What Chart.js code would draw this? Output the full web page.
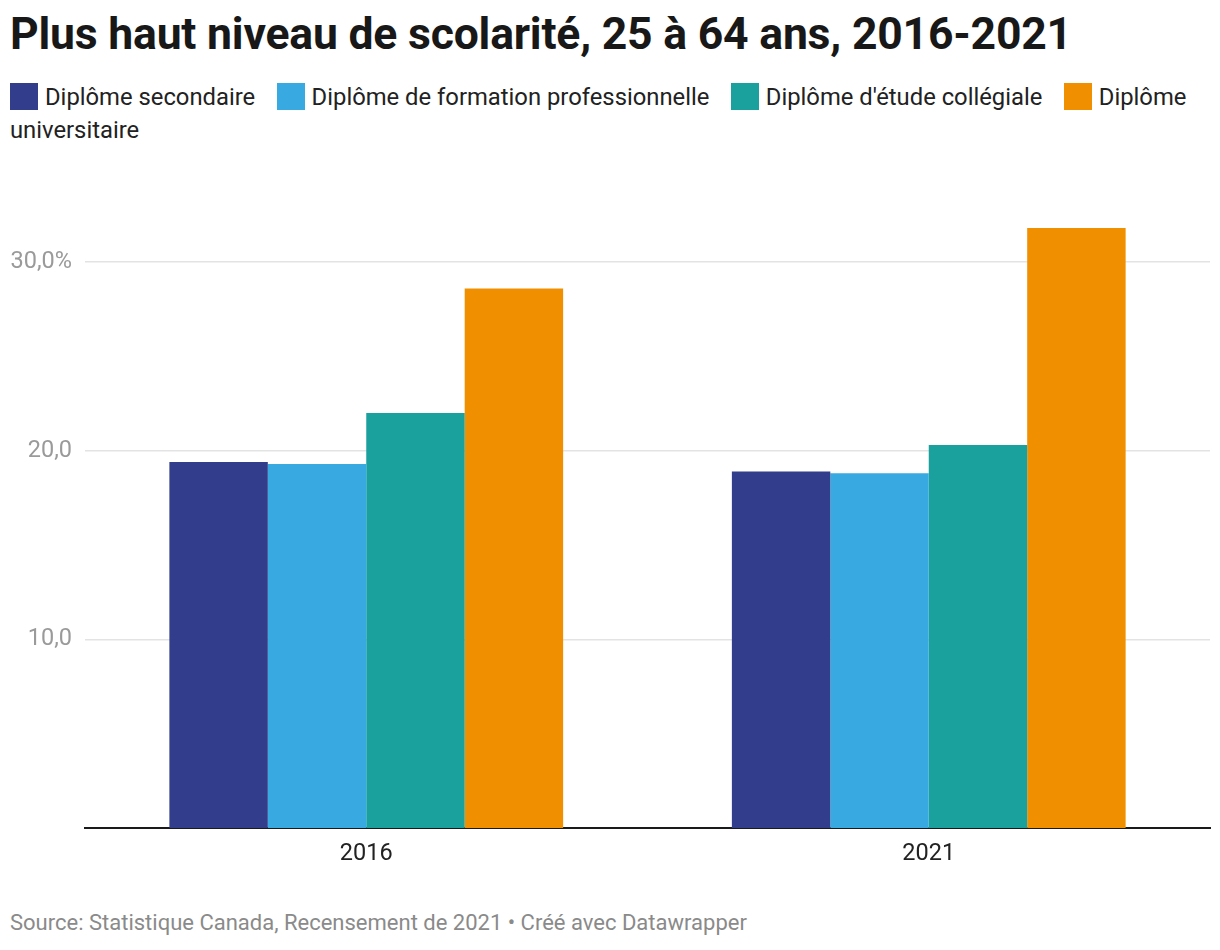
<!DOCTYPE html>
<html lang="fr">
<head>
<meta charset="utf-8">
<script src="https://cdn.jsdelivr.net/npm/chart.js@4.4.1/dist/chart.umd.min.js"></script>
<style>
  html, body { margin: 0; padding: 0; background: #fff; }
  body { width: 1220px; height: 950px; position: relative; font-family: Roboto, "Noto Sans", sans-serif; overflow: hidden; }
  #title { position: absolute; left: 10px; top: 8px; font-size: 44.5px; line-height: 52px; font-weight: 700; color: #181818; letter-spacing: -0.2px; white-space: nowrap; }
  #legend { position: absolute; left: 10px; top: 81px; width: 1200px; font-size: 23.8px; line-height: 33px; color: #222; }
  #legend .item { margin-right: 15.5px; }
  #legend .sw { display: inline-block; width: 28px; height: 27px; vertical-align: -5px; margin-right: 7px; }
  #wrap { position: absolute; left: 0; top: 200px; width: 1220px; height: 680px; }
  #source { position: absolute; left: 10px; top: 910px; font-size: 22px; color: #8a8a8a; white-space: nowrap; }
</style>
</head>
<body>
<div id="title">Plus haut niveau de scolarité, 25 à 64 ans, 2016-2021</div>
<div id="legend"></div>
<div id="wrap"><canvas id="c"></canvas></div>
<div id="source">Source: Statistique Canada, Recensement de 2021 • Créé avec Datawrapper</div>
<script>
const categories = ["2016", "2021"];
const seriesNames = ["Diplôme secondaire", "Diplôme de formation professionnelle", "Diplôme d'étude collégiale", "Diplôme universitaire"];
const secondaire = [19.4, 18.9];
const formation = [19.3, 18.8];
const collegiale = [22.0, 20.3];
const universitaire = [28.6, 31.8];
const colors = ["#323d8b", "#39aae1", "#1aa19e", "#f08f00"];
const yTicks = [10, 20, 30];
const yTickLabels = ["10,0", "20,0", "30,0%"];

const values = [secondaire, formation, collegiale, universitaire];

// HTML legend
const legend = document.getElementById('legend');
seriesNames.forEach((name, i) => {
  const span = document.createElement('span');
  span.className = 'item';
  const sw = document.createElement('span');
  sw.className = 'sw';
  sw.style.background = colors[i];
  span.appendChild(sw);
  span.appendChild(document.createTextNode(name));
  legend.appendChild(span);
  legend.appendChild(document.createTextNode(' '));
});

new Chart(document.getElementById('c'), {
  type: 'bar',
  data: {
    labels: categories,
    datasets: seriesNames.map((n, i) => ({
      label: n,
      data: values[i],
      backgroundColor: colors[i],
      borderWidth: 0,
      categoryPercentage: 0.7,
      barPercentage: 1.0
    }))
  },
  options: {
    responsive: true,
    maintainAspectRatio: false,
    animation: false,
    layout: { padding: { top: 20, right: 10, left: 0, bottom: 0 } },
    plugins: { legend: { display: false }, tooltip: { enabled: false } },
    scales: {
      x: {
        grid: { display: false, drawTicks: false },
        border: { display: true, color: '#1a1a1a', width: 2 },
        ticks: { color: '#222', font: { family: 'Roboto', size: 23.5 }, padding: 12 },
        afterFit: (s) => { s.height = 52; }
      },
      y: {
        min: 0,
        max: 31.85,
        afterBuildTicks: (s) => { s.ticks = yTicks.map(v => ({ value: v })); },
        grid: { color: '#e3e3e3', lineWidth: 1.5, drawTicks: false },
        border: { display: false },
        ticks: {
          color: '#9a9a9a',
          font: { family: 'Roboto', size: 23.5 },
          padding: 13,
          callback: (v) => { const k = yTicks.indexOf(v); return k >= 0 ? yTickLabels[k] : ''; }
        },
        afterFit: (s) => { s.width = 85; }
      }
    }
  }
});
</script>
</body>
</html>
